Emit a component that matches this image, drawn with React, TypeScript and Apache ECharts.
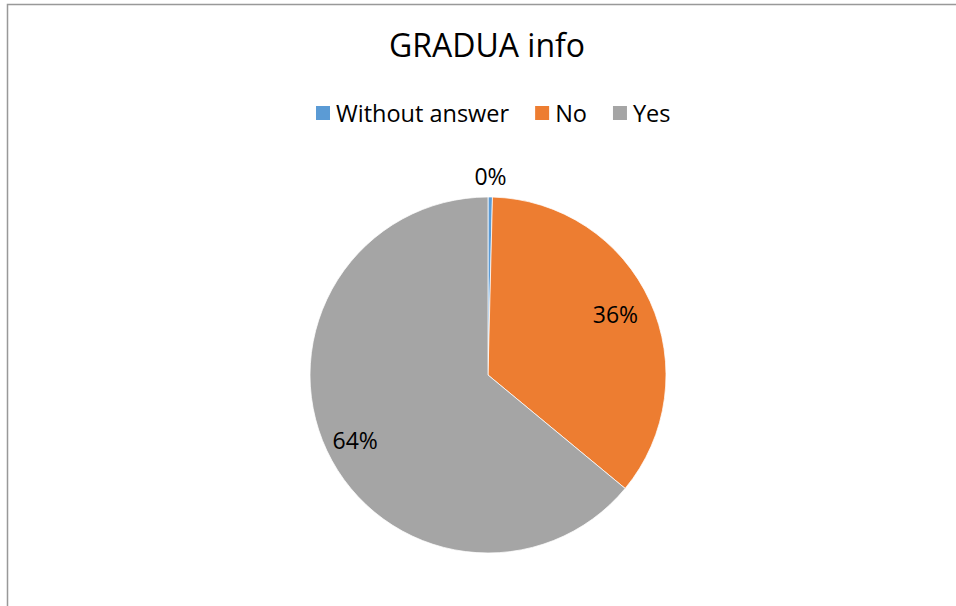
import React, { useEffect, useRef } from "react";
import * as echarts from "echarts";

const categories = ["Without answer", "No", "Yes"];
const values = [1, 89, 160];
const colors = ["#5B9BD5", "#ED7D31", "#A5A5A5"];
const titleText = "GRADUA info";

const FONT = "'Open Sans', sans-serif";
// label ring per slice: [inner, outer] radius in px, label drawn at the middle
const labelRings = [
  [186, 206],
  [96, 178],
  [114, 178],
];
const labelOffsets = [
  [0, 0],
  [0, -3],
  [2, 2],
];

export default function App() {
  const ref = useRef<HTMLDivElement>(null);
  useEffect(() => {
    if (!ref.current) return;
    const chart = echarts.init(ref.current, undefined, { renderer: "svg" });
    const total = values.reduce((a, b) => a + b, 0);
    const pct = (v: number) => Math.round((v / total) * 100) + "%";
    const center = [488, 375];
    const labelSeries = labelRings.map((ring, k) => ({
      type: "pie",
      center,
      radius: ring,
      startAngle: 90,
      clockwise: true,
      silent: true,
      legendHoverLink: false,
      labelLine: { show: false },
      emphasis: { disabled: true },
      label: {
        show: true,
        position: "inner",
        offset: labelOffsets[k],
        fontFamily: FONT,
        fontSize: 23,
        color: "#000",
        formatter: (p: any) => (p.dataIndex === k ? pct(p.value) : ""),
      },
      data: categories.map((name, i) => ({
        name,
        value: values[i],
        itemStyle: { color: "transparent", borderWidth: 0 },
      })),
    }));
    chart.setOption({
      animation: false,
      backgroundColor: "#fff",
      color: colors,
      title: {
        text: titleText,
        left: 384,
        top: 23,
        textStyle: { fontFamily: FONT, fontSize: 32, fontWeight: "normal", color: "#000" },
      },
      legend: {
        data: categories,
        left: 311,
        top: 96,
        itemWidth: 14,
        itemHeight: 14,
        itemGap: 26,
        icon: "rect",
        selectedMode: false,
        itemStyle: { borderWidth: 0 },
        textStyle: { fontFamily: FONT, fontSize: 23.5, color: "#000", padding: [0, 0, 0, 1] },
      },
      graphic: [
        {
          type: "rect",
          shape: { x: 7.5, y: 4.5, width: 2000, height: 2000 },
          style: { fill: "none", stroke: "#999", lineWidth: 1.5 },
          silent: true,
        },
      ],
      series: [
        {
          type: "pie",
          center,
          radius: 178,
          startAngle: 90,
          clockwise: true,
          label: { show: false },
          labelLine: { show: false },
          itemStyle: { borderColor: "#fff", borderWidth: 0.75 },
          emphasis: { disabled: true },
          data: categories.map((name, i) => ({
            name,
            value: values[i],
            itemStyle: { color: colors[i] },
          })),
        },
        ...labelSeries,
      ],
    });
    return () => chart.dispose();
  }, []);
  return (
    <div
      ref={ref}
      style={{ position: "absolute", left: 0, top: 0, width: 956, height: 606 }}
    />
  );
}
